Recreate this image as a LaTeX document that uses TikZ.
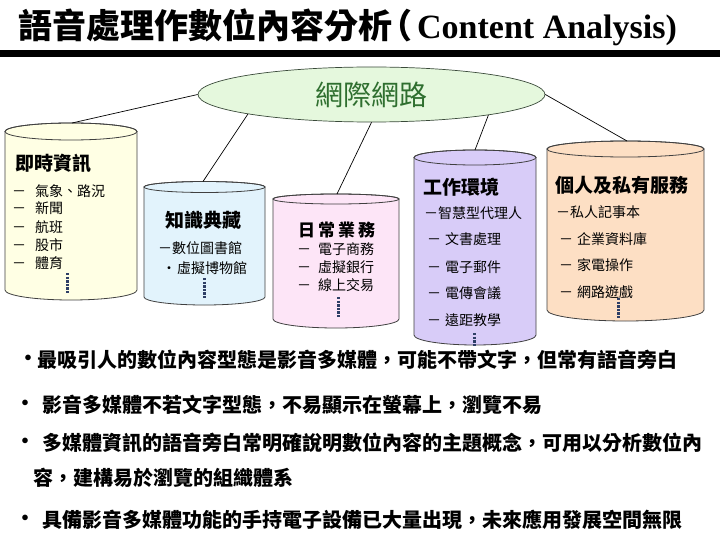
\documentclass[tikz,border=0pt]{standalone}
\usepackage{fontspec}
\setmainfont{Liberation Serif}
\newfontfamily\cjk{Noto Sans CJK TC}
\newfontfamily\titleen{Liberation Serif}
\usetikzlibrary{shapes.geometric}
\definecolor{netfill}{HTML}{E5F8DD}
\definecolor{nettext}{HTML}{2F6F2F}
\definecolor{netline}{HTML}{3A4A3A}
\definecolor{cA}{HTML}{FFFFE4}
\definecolor{cB}{HTML}{E2F3FC}
\definecolor{cC}{HTML}{FDE5F7}
\definecolor{cD}{HTML}{D8CCF8}
\definecolor{cE}{HTML}{FDDFC4}
\definecolor{dotc}{HTML}{2E3F66}
\definecolor{cylc}{HTML}{404040}
\newcommand\mycyl[7]{%
  \pgfmathsetmacro\cx{(#1+#2)/2}%
  \pgfmathsetmacro\rx{(#2-#1)/2}%
  \filldraw[cylline, fill=#7] (#1,#3) -- (#1,#5)
    arc[start angle=180, end angle=360, x radius=\rx pt, y radius=#6pt]
    -- (#2,#3)
    arc[start angle=0, end angle=180, x radius=\rx pt, y radius=#4pt] -- cycle;
  \draw[cylline] (\cx,#3) ellipse [x radius=\rx pt, y radius=#4pt];
}
\begin{document}
\begin{tikzpicture}[x=1pt,y=-1pt,
  cylline/.style={draw=cylc, line width=0.8pt},
  conn/.style={draw=black, line width=0.7pt},
  dotv/.style={draw=dotc, line width=3pt, dash pattern=on 2.4pt off 1.2pt},
  cyltitle/.style={anchor=west, inner sep=0pt, font=\fontsize{19}{22}\selectfont\cjk\bfseries},
  item/.style={anchor=west, inner sep=0pt, font=\fontsize{14}{16}\selectfont\cjk},
  bul/.style={anchor=west, inner sep=0pt, font=\fontsize{20}{24}\selectfont\cjk\bfseries},
  dotmark/.style={inner sep=0pt, font=\fontsize{20}{24}\selectfont\cjk\bfseries}
]
\useasboundingbox (0,0) rectangle (720,540);
\fill[white] (0,0) rectangle (720,540);

% title
\node[anchor=west, inner sep=0pt] (title) at (18,27)
  {{\fontsize{34}{40}\selectfont\cjk\bfseries 語音處理作數位內容分析\hspace{-14pt}（}\hspace{5pt}{\fontsize{34}{40}\selectfont\titleen\bfseries Content Analysis)}};
\draw[line width=6.5pt] (0,53.5) -- (720,53.5);

% cylinders
\mycyl{5}{137}{131.5}{8.5}{290}{10}{cA}
\mycyl{144}{265}{187}{5.5}{297}{8}{cB}
\mycyl{273}{399}{199}{5}{319}{9}{cC}
\mycyl{414}{536}{157.5}{7.5}{335}{10}{cD}
\mycyl{547}{704}{149}{8}{310}{11}{cE}

\coordinate (c1) at (72,123);
\coordinate (c2) at (203,181.5);
\coordinate (c3) at (337,194);
\coordinate (c4) at (475,150);
\coordinate (c5) at (627,141);

% ellipse
\node[ellipse, draw=netline, line width=0.7pt, fill=netfill, minimum width=347pt, minimum height=55pt, inner sep=0pt,
  text=nettext, font=\fontsize{28}{32}\selectfont\cjk] (net) at (371.5,94.5) {網際網路};

\draw[conn] (net.180) -- (c1);
\draw[conn] (net.189.4) -- (c2);
\draw[conn] (net.270) -- (c3);
\draw[conn] (net.350.6) -- (c4);
\draw[conn] (net.0) -- (c5);

% cylinder 1
\node[cyltitle] (t1) at (15,163) {即時資訊};
\node[item] (a1) at (12,191) {\makebox[23pt][l]{－}氣象、路況};
\node[item] (a2) at (12,208) {\makebox[23pt][l]{－}新聞};
\node[item] (a3) at (12,227) {\makebox[23pt][l]{－}航班};
\node[item] (a4) at (12,245) {\makebox[23pt][l]{－}股市};
\node[item] (a5) at (12,263) {\makebox[23pt][l]{－}體育};
\draw[dotv] (67,273) -- (67,293);

% cylinder 2
\node[cyltitle] (t2) at (165,220) {知識典藏};
\node[item] (b1) at (158,248) {\makebox[14pt][l]{－}數位圖書館};
\node[item] (b2) at (162,268) {\makebox[15pt][l]{·}虛擬博物館};
\draw[dotv] (204,278) -- (204,298);

% cylinder 3
\node[cyltitle, font=\fontsize{17}{20}\selectfont\cjk\bfseries] (t3) at (298,230) {日\hspace{3pt}常\hspace{3pt}業\hspace{3pt}務};
\node[item] (d1) at (297,249) {\makebox[21pt][l]{－}電子商務};
\node[item] (d2) at (297,267) {\makebox[21pt][l]{－}虛擬銀行};
\node[item] (d3) at (297,285) {\makebox[21pt][l]{－}線上交易};
\draw[dotv] (338,297) -- (338,317);

% cylinder 4
\node[cyltitle] (t4) at (423,187) {工作環境};
\node[item] (e1) at (424,213) {\makebox[14pt][l]{－}智慧型代理人};
\node[item] (e2) at (427,239) {\makebox[18pt][l]{－}文書處理};
\node[item] (e3) at (427,267) {\makebox[18pt][l]{－}電子郵件};
\node[item] (e4) at (427,293) {\makebox[18pt][l]{－}電傳會議};
\node[item] (e5) at (427,320) {\makebox[18pt][l]{－}遠距教學};
\draw[dotv] (474,333) -- (474,346);

% cylinder 5
\node[cyltitle] (t5) at (555,185) {個人及私有服務};
\node[item] (f1) at (556,212) {\makebox[14pt][l]{－}私人記事本};
\node[item] (f2) at (559,239) {\makebox[18pt][l]{－}企業資料庫};
\node[item] (f3) at (559,265) {\makebox[18pt][l]{－}家電操作};
\node[item] (f4) at (559,292) {\makebox[18pt][l]{－}網路遊戲};
\draw[dotv] (618,298) -- (618,318);

% bullets
\node[dotmark] (m1) at (29,360) {•};
\node[bul] (l1) at (37,360) {最吸引人的數位內容型態是影音多媒體，可能不帶文字，但常有語音旁白};
\node[dotmark] (m2) at (25,405) {·};
\node[bul] (l2) at (42,405) {影音多媒體不若文字型態，不易顯示在螢幕上，瀏覽不易};
\node[dotmark] (m3) at (25,443) {·};
\node[bul] (l3) at (42,443) {多媒體資訊的語音旁白常明確說明數位內容的主題概念，可用以分析數位內};
\node[bul] (l4) at (33,478) {容，建構易於瀏覽的組織體系};
\node[dotmark] (m5) at (25,520) {·};
\node[bul] (l5) at (42,520) {具備影音多媒體功能的手持電子設備已大量出現，未來應用發展空間無限};
\end{tikzpicture}
\end{document}
